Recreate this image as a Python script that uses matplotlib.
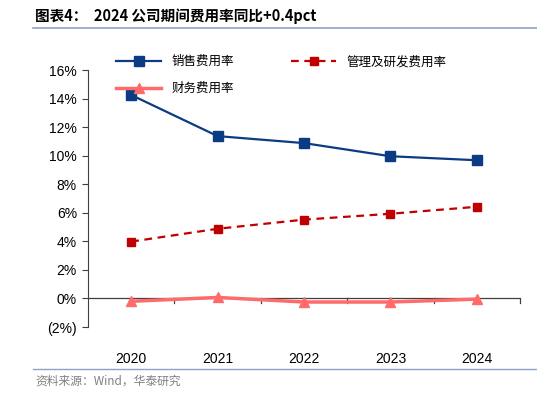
import matplotlib
matplotlib.use("Agg")
import matplotlib.pyplot as plt
from matplotlib.ticker import FuncFormatter
from matplotlib.lines import Line2D

years = ["2020", "2021", "2022", "2023", "2024"]
sales = [14.25, 11.37, 10.88, 9.96, 9.68]
admin = [3.98, 4.88, 5.52, 5.93, 6.42]
finance = [-0.20, 0.07, -0.25, -0.25, -0.05]
names = ["销售费用率", "管理及研发费用率", "财务费用率"]

cjk = ["Noto Sans CJK SC", "DejaVu Sans"]
lat = ["Liberation Sans", "DejaVu Sans"]

fig = plt.figure(figsize=(5.37, 3.94), dpi=100)
ax = fig.add_axes([88/537, 1-327/394, (520-88)/537, (327-70)/394])

x = list(range(len(years)))
c_blue = "#0B3C83"
c_red = "#C00000"
c_pink = "#FF6B6B"
ax.plot(x, sales, color=c_blue, lw=1.6, marker="s", ms=7, zorder=3)
ax.plot(x, admin, color=c_red, lw=1.6, ls=(0, (3.5, 2.5)), marker="s", ms=6, zorder=3)
ax.plot(x, finance, color=c_pink, lw=2.5, marker="^", ms=7, zorder=4)

ax.set_xlim(-0.5, 4.5)
ax.set_ylim(-2, 16)
ax.set_yticks(range(-2, 17, 2))
ax.yaxis.set_major_formatter(FuncFormatter(lambda v, p: f"({abs(int(v))}%)" if v < 0 else f"{int(v)}%"))
for s in ["top", "right", "bottom"]:
    ax.spines[s].set_visible(False)
ax.spines["left"].set_color("#404040")
ax.axhline(0, color="#404040", lw=0.9, zorder=2)
ax.tick_params(axis="y", direction="out", length=4, color="#404040", labelsize=10, pad=4)
ax.set_xticks(x)
ax.set_xticklabels(years)
ax.tick_params(axis="x", length=0, labelsize=10, pad=18)
for lbl in ax.get_xticklabels() + ax.get_yticklabels():
    lbl.set_family(lat)
for b in [0.5, 1.5, 2.5, 3.5, 4.5]:
    ax.plot([b, b], [0, -0.3], color="#404040", lw=0.9, clip_on=False, zorder=2)

h1 = Line2D([], [], color=c_blue, lw=1.6, marker="s", ms=7)
h2 = Line2D([], [], color=c_red, lw=1.6, ls=(0, (3.5, 2.5)), marker="s", ms=6)
h3 = Line2D([], [], color=c_pink, lw=2.5, marker="^", ms=7)
leg = fig.legend([h1, h3, h2], [names[0], names[2], names[1]], ncol=2,
                 loc="upper left", bbox_to_anchor=(105/537, 1-44/394), frameon=False,
                 handlelength=3.6, columnspacing=4.6, labelspacing=1.1,
                 prop={"family": cjk, "size": 9})

fig.text(35/537, 1-16/394, "图表4：  2024 公司期间费用率同比+0.4pct", family=cjk,
         fontsize=10.5, fontweight="bold", va="center", ha="left")
fig.add_artist(Line2D([33/537, 1], [1-28/394, 1-28/394], color="#8EA3C2", lw=1.2))
fig.add_artist(Line2D([33/537, 1], [1-369/394, 1-369/394], color="#8EA3C2", lw=1.0))
fig.text(35/537, 1-381/394, "资料来源：Wind，华泰研究", family=cjk, fontsize=8.5,
         color="#808080", va="center", ha="left")

fig.savefig("out.png", dpi=100)
